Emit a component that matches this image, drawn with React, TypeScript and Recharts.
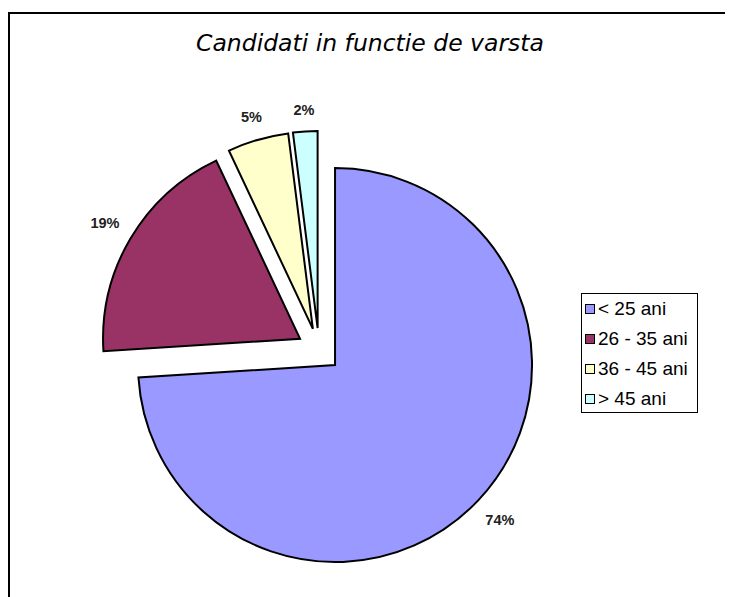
import React from "react";
import { PieChart, Pie, Cell, Sector, Legend } from "recharts";

const categories = ["< 25 ani", "26 - 35 ani", "36 - 45 ani", "> 45 ani"];
const values = [74, 19, 5, 2];
const colors = ["#9999FF", "#993366", "#FFFFCC", "#CCFFFF"];
const title = "Candidati in functie de varsta";

const data = categories.map((name, i) => ({ name, value: values[i] }));

const EXPLODE = 22;
const RAD = Math.PI / 180;

// Draws each slice exploded from the centre along its mid-angle, plus its percentage label.
const renderSliceAndLabel = (p: any) => {
  const cos = Math.cos(-p.midAngle * RAD);
  const sin = Math.sin(-p.midAngle * RAD);
  const ex = p.cx + EXPLODE * cos;
  const ey = p.cy + EXPLODE * sin;
  const text = `${Math.round(p.percent * 100)}%`;
  const halfW = text.length * 4.7;
  const halfH = 7;
  const d = p.outerRadius + 14 + Math.abs(cos) * halfW + Math.abs(sin) * halfH;
  return (
    <g>
      <Sector
        cx={ex}
        cy={ey}
        innerRadius={0}
        outerRadius={p.outerRadius}
        startAngle={p.startAngle}
        endAngle={p.endAngle}
        fill={colors[p.index]}
        stroke="#000"
        strokeWidth={2}
        strokeLinejoin="miter"
      />
      <text
        x={ex + d * cos}
        y={ey + d * sin}
        textAnchor="middle"
        dominantBaseline="central"
        fontFamily="'Liberation Sans', Arial, sans-serif"
        fontSize={14.5}
        fontWeight="bold"
        fill="#222"
      >
        {text}
      </text>
    </g>
  );
};

const LegendBox = () => (
  <div
    style={{
      width: 117,
      height: 120,
      boxSizing: "border-box",
      border: "1px solid #000",
      background: "#fff",
      fontFamily: "'Liberation Sans', Arial, sans-serif",
      fontSize: 19,
      color: "#000",
    }}
  >
    {categories.map((name, i) => (
      <div key={name} style={{ height: 30, display: "flex", alignItems: "center", whiteSpace: "nowrap" }}>
        <span
          style={{
            display: "inline-block",
            width: 10,
            height: 10,
            boxSizing: "border-box",
            border: "1.5px solid #000",
            background: colors[i],
            marginLeft: 3,
            marginRight: 3,
          }}
        />
        <span>{name}</span>
      </div>
    ))}
  </div>
);

export default function App() {
  return (
    <div style={{ position: "relative", width: 725, height: 589, overflow: "hidden", background: "#fff" }}>
      <div
        style={{
          position: "absolute",
          left: 0,
          top: 4,
          width: 2000,
          height: 2000,
          borderTop: "2px solid #000",
          borderLeft: "2px solid #000",
        }}
      />
      <div
        style={{
          position: "absolute",
          left: 0,
          top: 22,
          width: 724,
          textAlign: "center",
          fontFamily: "'DejaVu Sans', sans-serif",
          fontStyle: "italic",
          fontSize: 23.5,
          color: "#000",
          lineHeight: "27px",
        }}
      >
        {title}
      </div>
      <div style={{ position: "absolute", left: 0, top: 0 }}>
        <PieChart width={725} height={589} margin={{ top: 0, right: 0, bottom: 0, left: 0 }}>
          <Pie
            data={data}
            dataKey="value"
            nameKey="name"
            cx={311}
            cy={342}
            outerRadius={197}
            startAngle={90}
            endAngle={-270}
            isAnimationActive={false}
            label={renderSliceAndLabel}
            labelLine={false}
          >
            {data.map((d) => (
              <Cell key={d.name} fill="none" stroke="none" />
            ))}
          </Pie>
          <Legend
            layout="vertical"
            align="right"
            verticalAlign="middle"
            content={<LegendBox />}
            wrapperStyle={{ position: "absolute", left: 573, top: 285, right: "auto", bottom: "auto", width: 117 }}
          />
        </PieChart>
      </div>
    </div>
  );
}
